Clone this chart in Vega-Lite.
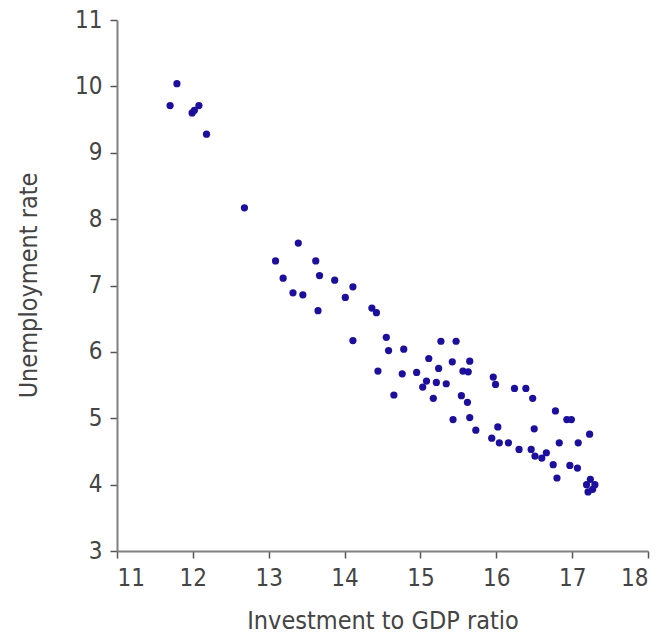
{
  "$schema": "https://vega.github.io/schema/vega-lite/v6.json",
  "width": 531,
  "height": 531,
  "autosize": "none",
  "padding": {"left": 117, "top": 20, "right": 14, "bottom": 83},
  "background": "white",
  "config": {
    "view": {"stroke": null},
    "axis": {
      "grid": false,
      "domainColor": "#808080",
      "domainWidth": 2,
      "tickColor": "#555555",
      "tickSize": 7,
      "tickWidth": 1.5,
      "labelFont": "Liberation Sans Narrow, DejaVu Sans Condensed, sans-serif",
      "titleFont": "Liberation Sans Narrow, DejaVu Sans Condensed, sans-serif",
      "labelFontSize": 24,
      "titleFontSize": 25,
      "titleFontWeight": "normal",
      "labelColor": "#444444",
      "titleColor": "#444444",
      "labelPadding": 8
    }
  },
  "data": {
    "values": [
      {"inv": 11.79, "unemp": 10.04},
      {"inv": 11.70, "unemp": 9.71},
      {"inv": 11.99, "unemp": 9.60},
      {"inv": 12.02, "unemp": 9.64},
      {"inv": 12.08, "unemp": 9.71},
      {"inv": 12.18, "unemp": 9.28},
      {"inv": 12.68, "unemp": 8.17},
      {"inv": 13.39, "unemp": 7.64},
      {"inv": 13.09, "unemp": 7.37},
      {"inv": 13.62, "unemp": 7.37},
      {"inv": 13.19, "unemp": 7.11},
      {"inv": 13.67, "unemp": 7.15},
      {"inv": 13.87, "unemp": 7.08},
      {"inv": 14.11, "unemp": 6.98},
      {"inv": 13.32, "unemp": 6.89},
      {"inv": 13.45, "unemp": 6.86},
      {"inv": 14.01, "unemp": 6.82},
      {"inv": 14.36, "unemp": 6.66},
      {"inv": 14.42, "unemp": 6.59},
      {"inv": 13.65, "unemp": 6.62},
      {"inv": 14.11, "unemp": 6.17},
      {"inv": 14.55, "unemp": 6.22},
      {"inv": 14.58, "unemp": 6.02},
      {"inv": 14.44, "unemp": 5.71},
      {"inv": 14.65, "unemp": 5.35},
      {"inv": 14.78, "unemp": 6.04},
      {"inv": 15.11, "unemp": 5.90},
      {"inv": 15.42, "unemp": 5.85},
      {"inv": 15.65, "unemp": 5.86},
      {"inv": 15.24, "unemp": 5.75},
      {"inv": 15.56, "unemp": 5.71},
      {"inv": 15.63, "unemp": 5.70},
      {"inv": 14.95, "unemp": 5.69},
      {"inv": 14.76, "unemp": 5.67},
      {"inv": 15.96, "unemp": 5.62},
      {"inv": 15.99, "unemp": 5.51},
      {"inv": 15.08, "unemp": 5.56},
      {"inv": 15.21, "unemp": 5.54},
      {"inv": 15.34, "unemp": 5.52},
      {"inv": 15.03, "unemp": 5.47},
      {"inv": 16.24, "unemp": 5.45},
      {"inv": 16.39, "unemp": 5.45},
      {"inv": 16.48, "unemp": 5.30},
      {"inv": 15.17, "unemp": 5.30},
      {"inv": 15.54, "unemp": 5.34},
      {"inv": 15.62, "unemp": 5.24},
      {"inv": 16.78, "unemp": 5.11},
      {"inv": 16.93, "unemp": 4.98},
      {"inv": 16.99, "unemp": 4.98},
      {"inv": 15.43, "unemp": 4.98},
      {"inv": 15.65, "unemp": 5.01},
      {"inv": 15.73, "unemp": 4.82},
      {"inv": 16.02, "unemp": 4.87},
      {"inv": 16.50, "unemp": 4.84},
      {"inv": 17.23, "unemp": 4.76},
      {"inv": 15.94, "unemp": 4.70},
      {"inv": 16.04, "unemp": 4.63},
      {"inv": 16.16, "unemp": 4.63},
      {"inv": 16.83, "unemp": 4.63},
      {"inv": 17.08, "unemp": 4.63},
      {"inv": 16.30, "unemp": 4.53},
      {"inv": 16.46, "unemp": 4.53},
      {"inv": 16.51, "unemp": 4.43},
      {"inv": 16.60, "unemp": 4.40},
      {"inv": 16.66, "unemp": 4.48},
      {"inv": 16.75, "unemp": 4.30},
      {"inv": 16.97, "unemp": 4.29},
      {"inv": 17.07, "unemp": 4.25},
      {"inv": 16.80, "unemp": 4.10},
      {"inv": 17.24, "unemp": 4.08},
      {"inv": 17.19, "unemp": 4.00},
      {"inv": 17.30, "unemp": 4.00},
      {"inv": 17.21, "unemp": 3.89},
      {"inv": 17.27, "unemp": 3.93},
      {"inv": 15.27, "unemp": 6.16},
      {"inv": 15.47, "unemp": 6.16}
    ]
  },
  "mark": {"type": "point", "filled": true, "shape": "circle", "size": 52, "color": "#1c0f9c", "opacity": 1},
  "encoding": {
    "x": {
      "field": "inv",
      "type": "quantitative",
      "scale": {"domain": [11, 18], "nice": false, "zero": false},
      "axis": {"values": [11, 12, 13, 14, 15, 16, 17, 18], "title": "Investment to GDP ratio", "titleY": 69, "titleBaseline": "middle"}
    },
    "y": {
      "field": "unemp",
      "type": "quantitative",
      "scale": {"domain": [3, 11], "nice": false, "zero": false},
      "axis": {"values": [3, 4, 5, 6, 7, 8, 9, 10, 11], "title": "Unemployment rate", "titleX": -89, "titleY": 265, "titleAngle": -90, "titleBaseline": "middle", "titleAlign": "center"}
    }
  }
}
